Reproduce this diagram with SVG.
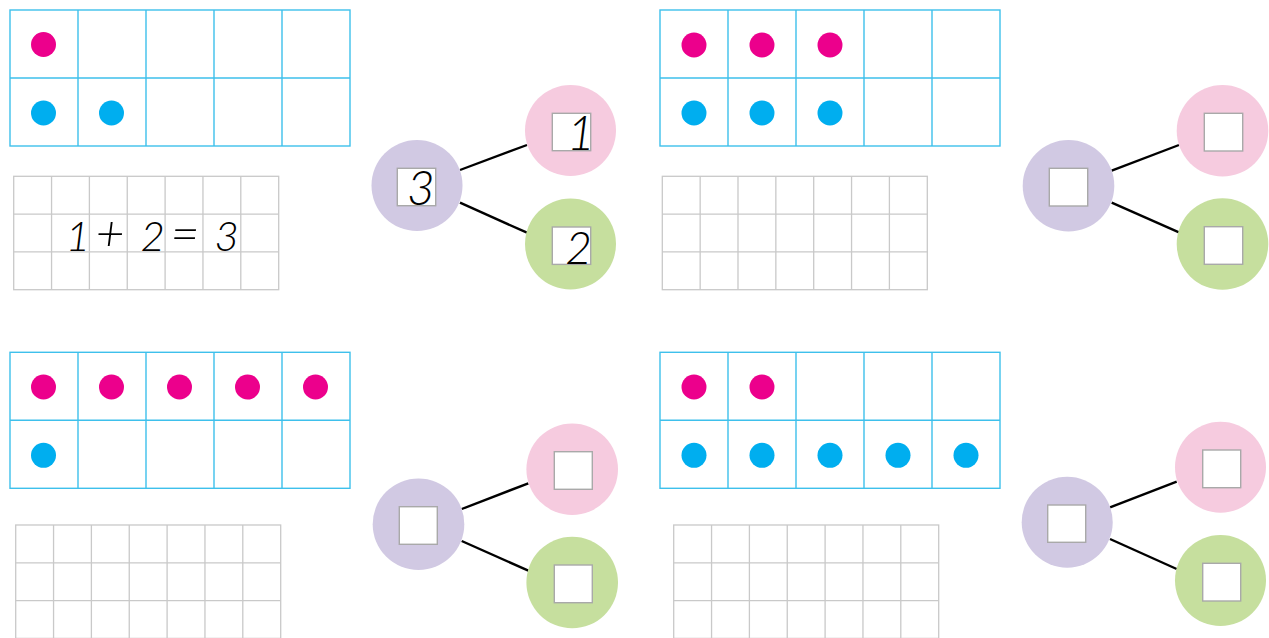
<svg xmlns="http://www.w3.org/2000/svg" xmlns:xlink="http://www.w3.org/1999/xlink" width="1269" height="638" viewBox="0 0 1269 638">
<style>
.frame{fill:none;stroke:#3ec0ec;stroke-width:1.4}
.grid{fill:none;stroke:#c9c9c9;stroke-width:1.3}
.pink{fill:#ec008c}
.blue{fill:#00aeef}
.cp{fill:#d1c9e3}
.cr{fill:#f6cbdf}
.cg{fill:#c6df9e}
.sq{fill:#fff;stroke:#a9a9a9;stroke-width:1.4}
.con{stroke:#000;stroke-width:2.4;fill:none}
.hw{font-family:Lato,"Open Sans","Liberation Sans",sans-serif;font-style:italic;font-weight:300;fill:#000}
</style>
<defs>
<g id="tenframe">
<rect class="frame" x="0" y="0" width="340" height="136"/>
<path class="frame" d="M68 0V136M136 0V136M204 0V136M272 0V136M0 68H340"/>
</g>
<g id="wgrid">
<rect class="grid" x="0" y="0" width="265" height="113.4"/>
<path class="grid" d="M37.85 0V113.4M75.7 0V113.4M113.55 0V113.4M151.4 0V113.4M189.25 0V113.4M227.1 0V113.4M0 37.8H265M0 75.6H265"/>
</g>
</defs>

<g id="frame1">
<use xlink:href="#tenframe" x="10" y="10"/>
<circle class="pink" cx="43.5" cy="44.5" r="12.5"/>
<circle class="blue" cx="43.5" cy="113" r="12.5"/>
<circle class="blue" cx="111.5" cy="113" r="12.5"/>
</g>
<g id="frame2">
<use xlink:href="#tenframe" x="660" y="10"/>
<circle class="pink" cx="694" cy="45" r="12.5"/>
<circle class="pink" cx="762" cy="45" r="12.5"/>
<circle class="pink" cx="830" cy="45" r="12.5"/>
<circle class="blue" cx="694" cy="113" r="12.5"/>
<circle class="blue" cx="762" cy="113" r="12.5"/>
<circle class="blue" cx="830" cy="113" r="12.5"/>
</g>
<g id="frame3">
<use xlink:href="#tenframe" x="10" y="352.3"/>
<circle class="pink" cx="43.5" cy="387" r="12.5"/>
<circle class="pink" cx="111.5" cy="387" r="12.5"/>
<circle class="pink" cx="179.5" cy="387" r="12.5"/>
<circle class="pink" cx="247.5" cy="387" r="12.5"/>
<circle class="pink" cx="315.5" cy="387" r="12.5"/>
<circle class="blue" cx="43.5" cy="455.3" r="12.5"/>
</g>
<g id="frame4">
<use xlink:href="#tenframe" x="660" y="352.3"/>
<circle class="pink" cx="694" cy="387" r="12.5"/>
<circle class="pink" cx="762" cy="387" r="12.5"/>
<circle class="blue" cx="694" cy="455.3" r="12.5"/>
<circle class="blue" cx="762" cy="455.3" r="12.5"/>
<circle class="blue" cx="830" cy="455.3" r="12.5"/>
<circle class="blue" cx="898" cy="455.3" r="12.5"/>
<circle class="blue" cx="966" cy="455.3" r="12.5"/>
</g>

<g id="grid1">
<use xlink:href="#wgrid" x="13.7" y="176.3"/>
<text class="hw" font-size="42" y="251"><tspan x="78" text-anchor="middle">1</tspan><tspan x="110" text-anchor="middle" font-size="50">+</tspan><tspan x="147.5" text-anchor="middle"> 2</tspan><tspan x="185" text-anchor="middle" font-size="50">=</tspan><tspan x="221.5" text-anchor="middle"> 3</tspan></text>
</g>
<g id="grid2"><use xlink:href="#wgrid" x="662.3" y="176.3"/></g>
<g id="grid3"><use xlink:href="#wgrid" x="15.7" y="525"/></g>
<g id="grid4"><use xlink:href="#wgrid" x="673.7" y="525"/></g>

<g id="connectors">
<line class="con" x1="460" y1="170" x2="527" y2="145"/>
<line class="con" x1="460" y1="202.7" x2="527" y2="232.7"/>
<line class="con" x1="1111.7" y1="170.7" x2="1179" y2="145"/>
<line class="con" x1="1111.7" y1="202.7" x2="1179" y2="232.3"/>
<line class="con" x1="461.7" y1="509" x2="528.3" y2="483.3"/>
<line class="con" x1="461.7" y1="541" x2="528.3" y2="570.7"/>
<line class="con" x1="1110" y1="507.3" x2="1176.7" y2="481.7"/>
<line class="con" x1="1110" y1="539" x2="1176.7" y2="569"/>
</g>

<g id="bond1-whole">
<circle class="cp" cx="417" cy="185.5" r="45.5"/>
<rect class="sq" x="397.3" y="168.3" width="38.4" height="37.4"/>
<text class="hw" font-size="48" x="421" y="205" text-anchor="middle">3</text>
</g>
<g id="bond1-part1">
<circle class="cr" cx="570.5" cy="130.5" r="45.5"/>
<rect class="sq" x="552.3" y="113.3" width="38.4" height="37.4"/>
<text class="hw" font-size="48" x="581" y="150" text-anchor="middle">1</text>
</g>
<g id="bond1-part2">
<circle class="cg" cx="570.5" cy="244" r="45.5"/>
<rect class="sq" x="552.3" y="227" width="38.4" height="37.4"/>
<text class="hw" font-size="46" x="578.5" y="263.5" text-anchor="middle">2</text>
</g>

<g id="bond2-whole">
<circle class="cp" cx="1068.5" cy="185.8" r="45.8"/>
<rect class="sq" x="1049.3" y="168.3" width="38.4" height="37.7"/>
</g>
<g id="bond2-part1">
<circle class="cr" cx="1222.5" cy="130.8" r="45.8"/>
<rect class="sq" x="1204.3" y="113.3" width="38.4" height="37.7"/>
</g>
<g id="bond2-part2">
<circle class="cg" cx="1222.5" cy="244" r="45.8"/>
<rect class="sq" x="1204.3" y="226.7" width="38.4" height="37.6"/>
</g>

<g id="bond3-whole">
<circle class="cp" cx="418.5" cy="524.2" r="45.8"/>
<rect class="sq" x="399.3" y="506.7" width="38" height="37.6"/>
</g>
<g id="bond3-part1">
<circle class="cr" cx="572.2" cy="469.2" r="45.8"/>
<rect class="sq" x="554.3" y="451.7" width="38" height="37.6"/>
</g>
<g id="bond3-part2">
<circle class="cg" cx="572.2" cy="582.5" r="45.8"/>
<rect class="sq" x="554.3" y="565" width="38" height="37.7"/>
</g>

<g id="bond4-whole">
<circle class="cp" cx="1067.2" cy="522.2" r="45.5"/>
<rect class="sq" x="1047.7" y="505" width="38" height="37.3"/>
</g>
<g id="bond4-part1">
<circle class="cr" cx="1220.5" cy="467.2" r="45.5"/>
<rect class="sq" x="1202.7" y="450" width="38" height="37.7"/>
</g>
<g id="bond4-part2">
<circle class="cg" cx="1220.5" cy="580.5" r="45.5"/>
<rect class="sq" x="1202.7" y="563.3" width="38" height="37.7"/>
</g>
</svg>
